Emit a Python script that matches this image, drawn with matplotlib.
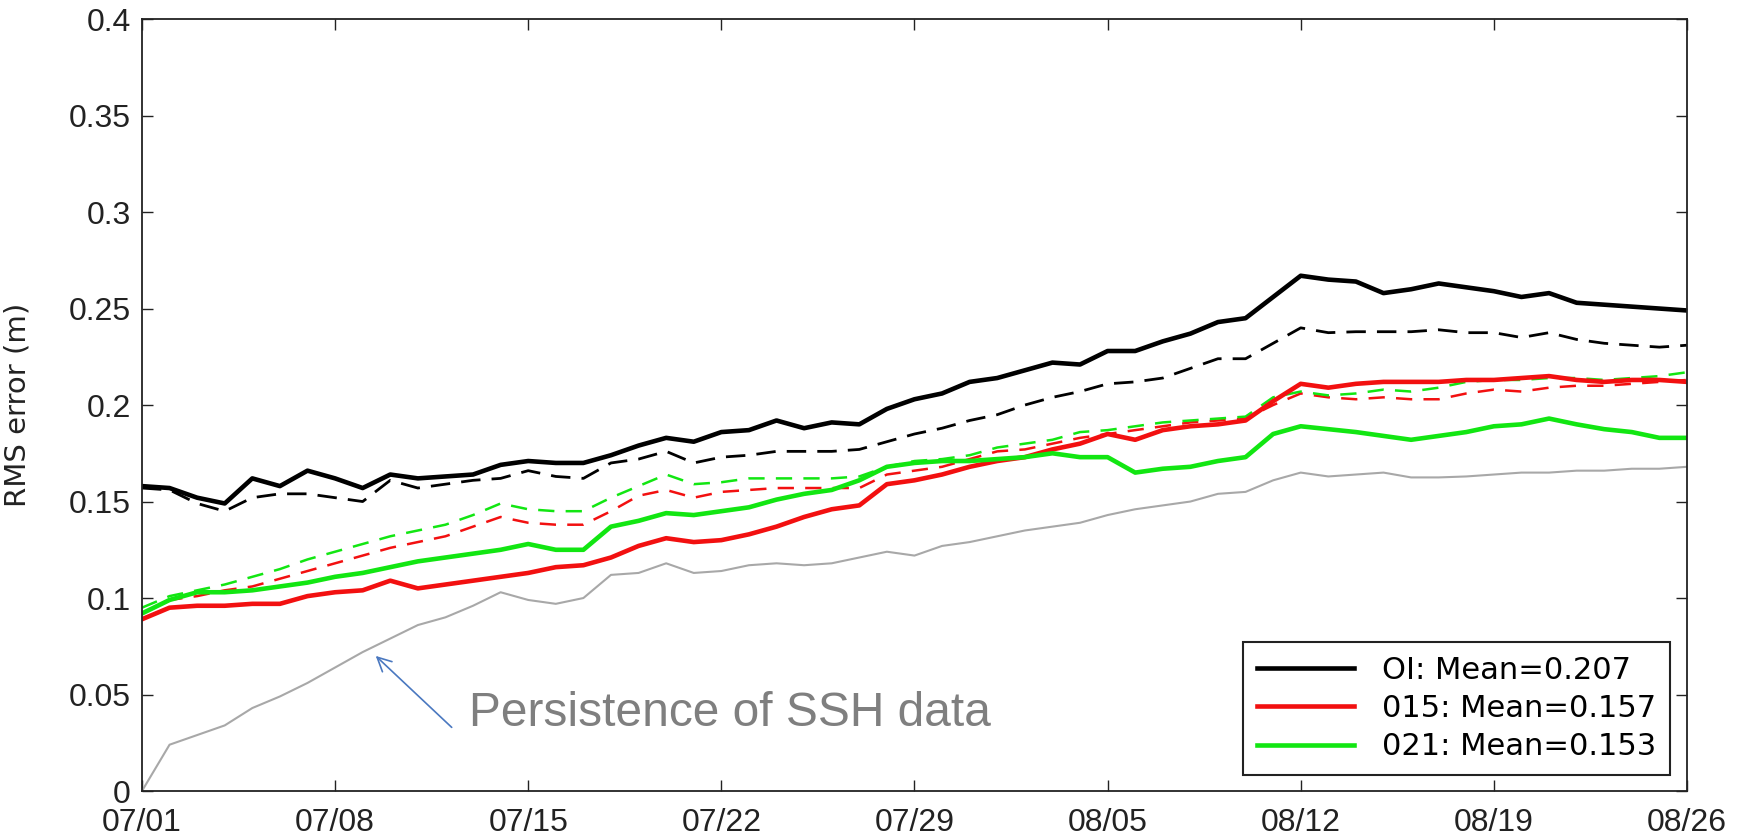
import numpy as np
import matplotlib
matplotlib.use('Agg')
import matplotlib.pyplot as plt

plt.rcParams['font.family'] = ['Liberation Sans', 'DejaVu Sans']

# day index 0 = 07/01 ... 56 = 08/26
days = np.arange(57)
tick_days = [0, 7, 14, 21, 28, 35, 42, 49, 56]
tick_labels = ['07/01', '07/08', '07/15', '07/22', '07/29', '08/05', '08/12', '08/19', '08/26']

oi_solid = [0.158, 0.157, 0.152, 0.149, 0.162, 0.158, 0.166, 0.162, 0.157, 0.164,
            0.162, 0.163, 0.164, 0.169, 0.171, 0.170, 0.170, 0.174, 0.179, 0.183,
            0.181, 0.186, 0.187, 0.192, 0.188, 0.191, 0.190, 0.198, 0.203, 0.206,
            0.212, 0.214, 0.218, 0.222, 0.221, 0.228, 0.228, 0.233, 0.237, 0.243,
            0.245, 0.256, 0.267, 0.265, 0.264, 0.258, 0.260, 0.263, 0.261, 0.259,
            0.256, 0.258, 0.253, 0.252, 0.251, 0.250, 0.249]
oi_dash = [0.157, 0.156, 0.149, 0.145, 0.152, 0.154, 0.154, 0.152, 0.150, 0.161,
           0.157, 0.159, 0.161, 0.162, 0.166, 0.163, 0.162, 0.170, 0.172, 0.176,
           0.170, 0.173, 0.174, 0.176, 0.176, 0.176, 0.177, 0.181, 0.185, 0.188,
           0.192, 0.195, 0.200, 0.204, 0.207, 0.211, 0.212, 0.214, 0.219, 0.224,
           0.224, 0.232, 0.240, 0.2375, 0.238, 0.238, 0.238, 0.239, 0.2375, 0.2375,
           0.235, 0.2375, 0.234, 0.232, 0.231, 0.230, 0.231]
e015_solid = [0.089, 0.095, 0.096, 0.096, 0.097, 0.097, 0.101, 0.103, 0.104, 0.109,
              0.105, 0.107, 0.109, 0.111, 0.113, 0.116, 0.117, 0.121, 0.127, 0.131,
              0.129, 0.130, 0.133, 0.137, 0.142, 0.146, 0.148, 0.159, 0.161, 0.164,
              0.168, 0.171, 0.173, 0.177, 0.180, 0.185, 0.182, 0.187, 0.189, 0.190,
              0.192, 0.202, 0.211, 0.209, 0.211, 0.212, 0.212, 0.212, 0.213, 0.213,
              0.214, 0.215, 0.213, 0.212, 0.213, 0.213, 0.212]
e015_dash = [0.092, 0.099, 0.101, 0.104, 0.106, 0.110, 0.114, 0.118, 0.122, 0.126,
             0.129, 0.132, 0.137, 0.142, 0.139, 0.138, 0.138, 0.145, 0.153, 0.156,
             0.152, 0.155, 0.156, 0.157, 0.157, 0.157, 0.157, 0.164, 0.166, 0.168,
             0.172, 0.176, 0.177, 0.180, 0.183, 0.185, 0.187, 0.189, 0.191, 0.192,
             0.193, 0.200, 0.206, 0.204, 0.203, 0.204, 0.203, 0.203, 0.206, 0.208,
             0.207, 0.209, 0.210, 0.210, 0.211, 0.212, 0.213]
e021_solid = [0.092, 0.099, 0.103, 0.103, 0.104, 0.106, 0.108, 0.111, 0.113, 0.116,
              0.119, 0.121, 0.123, 0.125, 0.128, 0.125, 0.125, 0.137, 0.140, 0.144,
              0.143, 0.145, 0.147, 0.151, 0.154, 0.156, 0.161, 0.168, 0.170, 0.171,
              0.171, 0.172, 0.173, 0.175, 0.173, 0.173, 0.165, 0.167, 0.168, 0.171,
              0.173, 0.185, 0.189, 0.1875, 0.186, 0.184, 0.182, 0.184, 0.186, 0.189,
              0.190, 0.193, 0.190, 0.1875, 0.186, 0.183, 0.183]
e021_dash = [0.095, 0.101, 0.104, 0.107, 0.111, 0.115, 0.120, 0.124, 0.128, 0.132,
             0.135, 0.138, 0.143, 0.149, 0.146, 0.145, 0.145, 0.152, 0.158, 0.164,
             0.159, 0.160, 0.162, 0.162, 0.162, 0.162, 0.163, 0.168, 0.171, 0.172,
             0.174, 0.178, 0.180, 0.182, 0.186, 0.187, 0.189, 0.191, 0.192, 0.193,
             0.194, 0.204, 0.207, 0.205, 0.206, 0.208, 0.207, 0.209, 0.212, 0.213,
             0.213, 0.214, 0.214, 0.213, 0.214, 0.215, 0.217]
persistence = [0.0, 0.024, 0.029, 0.034, 0.043, 0.049, 0.056, 0.064, 0.072, 0.079,
               0.086, 0.090, 0.096, 0.103, 0.099, 0.097, 0.100, 0.112, 0.113, 0.118,
               0.113, 0.114, 0.117, 0.118, 0.117, 0.118, 0.121, 0.124, 0.122, 0.127,
               0.129, 0.132, 0.135, 0.137, 0.139, 0.143, 0.146, 0.148, 0.150, 0.154,
               0.155, 0.161, 0.165, 0.163, 0.164, 0.165, 0.1625, 0.1625, 0.163, 0.164,
               0.165, 0.165, 0.166, 0.166, 0.167, 0.167, 0.168]

fig = plt.figure(figsize=(17.46, 8.4), dpi=100)
ax = fig.add_axes([0.0813, 0.0583, 0.8849, 0.919])

red = '#f21010'
green = '#12e612'

ax.plot(days, persistence, color='#a8a8a8', lw=1.5)
ax.plot(days, oi_dash, color='black', lw=2, ls=(0, (7, 4)))
ax.plot(days, e015_dash, color=red, lw=1.8, ls=(0, (6.5, 4.5)))
ax.plot(days, e021_dash, color=green, lw=1.8, ls=(0, (6.5, 4.5)))
ax.plot(days, oi_solid, color='black', lw=3.3, label='OI: Mean=0.207')
ax.plot(days, e015_solid, color=red, lw=3.3, label='015: Mean=0.157')
ax.plot(days, e021_solid, color=green, lw=3.3, label='021: Mean=0.153')

ax.set_xlim(0, 56)
ax.set_ylim(0, 0.4)
ax.set_xticks(tick_days)
ax.set_xticklabels(tick_labels)
ax.set_yticks([0, 0.05, 0.1, 0.15, 0.2, 0.25, 0.3, 0.35, 0.4])
ax.set_yticklabels(['0', '0.05', '0.1', '0.15', '0.2', '0.25', '0.3', '0.35', '0.4'])
ax.tick_params(direction='in', length=8, width=1, top=True, right=True,
               labelsize=23, colors='#222222')
ax.tick_params(axis='x', pad=12)
ax.tick_params(axis='y', pad=8)
for s in ax.spines.values():
    s.set_linewidth(1.3)
    s.set_color('#222222')

ax.set_ylabel('RMS error (m)', fontsize=21, color='#222222', family='DejaVu Sans')
ax.yaxis.set_label_coords(-0.0712, 0.5)

leg = ax.legend(loc='lower right', bbox_to_anchor=(0.989, 0.0207),
                prop={'family': 'DejaVu Sans', 'size': 22},
                handlelength=3.2, handletextpad=0.9, labelspacing=0.3,
                borderpad=0.45, borderaxespad=0, fancybox=False, framealpha=1,
                edgecolor='#222222')
leg.get_frame().set_linewidth(1.5)

ax.annotate('', xy=(8.4, 0.071), xytext=(11.3, 0.032),
            arrowprops=dict(arrowstyle='->', color='#4a78c0', lw=1.2, mutation_scale=25))
ax.text(11.85, 0.040, 'Persistence of SSH data', fontsize=34.5, color='#7f7f7f',
        va='center', ha='left')

fig.savefig('out.png', dpi=100)
